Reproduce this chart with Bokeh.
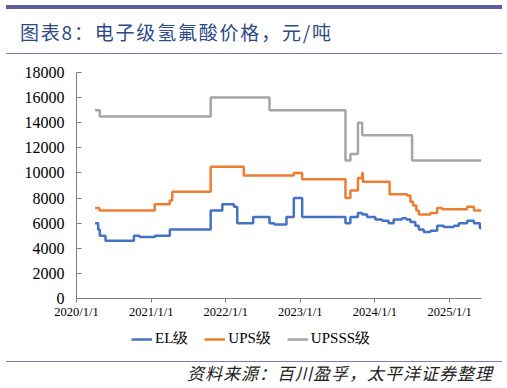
import pandas as pd
from bokeh.plotting import figure
from bokeh.layouts import column
from bokeh.models import Range1d, FixedTicker, Legend, LegendItem, Div
from bokeh.embed import file_html
from bokeh.resources import INLINE

# ---------------- data ----------------
el_dates = ["2020-04-01", "2020-04-16", "2020-04-24", "2020-05-22", "2020-10-08",
            "2020-11-05", "2021-01-19", "2021-04-02", "2021-10-19", "2021-12-15",
            "2022-02-10", "2022-02-26", "2022-05-15", "2022-08-03", "2022-08-27",
            "2022-10-25", "2022-11-30", "2023-01-10", "2023-08-10", "2023-09-03",
            "2023-10-10", "2023-10-31", "2023-11-24", "2024-01-03", "2024-02-05",
            "2024-03-08", "2024-04-02", "2024-05-13", "2024-06-03", "2024-06-23",
            "2024-07-17", "2024-08-03", "2024-08-27", "2024-09-29", "2024-11-01",
            "2024-12-03", "2025-01-22", "2025-02-15", "2025-03-28", "2025-04-30",
            "2025-05-29"]
el_values = [6000, 5500, 5000, 4600, 5000,
             4900, 5000, 5500, 7000, 7500,
             7300, 6000, 6500, 6000, 5900,
             6500, 8000, 6500, 6000, 6500,
             6800, 6700, 6500, 6300, 6200,
             6000, 6300, 6400, 6300, 6100,
             5800, 5500, 5300, 5400, 5800,
             5700, 5800, 6000, 6200, 6000,
             5600]

ups_dates = ["2020-04-01", "2020-04-22", "2021-01-18", "2021-04-01", "2021-04-14",
             "2021-10-19", "2022-03-30", "2022-11-30", "2023-01-10", "2023-08-10",
             "2023-09-03", "2023-10-10", "2023-10-31", "2023-11-03", "2024-03-13",
             "2024-06-07", "2024-06-23", "2024-07-06", "2024-07-22", "2024-08-03",
             "2024-09-29", "2024-11-01", "2024-11-25", "2025-03-28", "2025-04-30"]
ups_values = [7200, 7000, 7500, 7800, 8500,
              10500, 9800, 10000, 9500, 8000,
              8600, 9600, 10000, 9300, 8300,
              8200, 7700, 7400, 7000, 6700,
              6800, 7200, 7100, 7300, 7000]

upsss_dates = ["2020-04-01", "2020-04-24", "2021-10-19", "2022-08-03", "2023-08-10",
               "2023-09-03", "2023-10-10", "2023-10-31", "2024-07-01"]
upsss_values = [15000, 14500, 16000, 15000, 11000,
                11500, 14000, 13000, 11000]

last_date = "2025-06-06"

series_names = ["EL级", "UPS级", "UPSSS级"]
series_colors = ["#4472C4", "#ED7D31", "#A5A5A5"]

year_ticks = ["2020-01-01", "2021-01-01", "2022-01-01", "2023-01-01",
              "2024-01-01", "2025-01-01"]
year_labels = ["2020/1/1", "2021/1/1", "2022/1/1", "2023/1/1", "2024/1/1", "2025/1/1"]
y_ticks = [0, 2000, 4000, 6000, 8000, 10000, 12000, 14000, 16000, 18000]

title_text = "图表8：电子级氢氟酸价格，元/吨"
source_text = "资料来源：百川盈孚，太平洋证券整理"

W = 507
RULE_COLOR = "#5B5EA0"
THIN_RULE_COLOR = "#7B7EB6"
LINE_W = 2.5


def ms(d):
    return pd.Timestamp(d).value // 10**6


def clean(f):
    f.outline_line_color = None
    f.xgrid.grid_line_color = None
    f.ygrid.grid_line_color = None
    f.background_fill_color = "white"
    f.border_fill_color = "white"
    return f


# ---------------- header ----------------
head_html = (
    '<div style="position:relative;width:507px;height:60px;margin:0;padding:0;">'
    f'<div style="position:absolute;left:6px;top:5px;width:496px;height:3.5px;background:{RULE_COLOR};"></div>'
    '<div style="position:absolute;left:20px;top:20px;height:24px;line-height:24px;white-space:nowrap;'
    "letter-spacing:1.8px;font-family:'Noto Sans CJK SC';font-size:19px;color:#2E4A86;\">"
    f'{title_text}</div>'
    f'<div style="position:absolute;left:6px;top:53px;width:496px;height:1px;background:{THIN_RULE_COLOR};"></div>'
    '</div>'
)
head = Div(text=head_html, width=W, height=60, margin=0)

# ---------------- main chart ----------------
p = clean(figure(width=W, height=262, x_axis_type="datetime",
                 output_backend="svg", toolbar_location=None,
                 x_range=Range1d(ms("2020-01-01"), ms(last_date)),
                 y_range=Range1d(0, 18000),
                 min_border_left=76, min_border_right=26,
                 min_border_top=12, min_border_bottom=24))

for dates, vals, color in [(el_dates, el_values, series_colors[0]),
                           (ups_dates, ups_values, series_colors[1]),
                           (upsss_dates, upsss_values, series_colors[2])]:
    xs = [ms(d) for d in dates] + [ms(last_date)]
    ys = list(vals) + [vals[-1]]
    p.step(xs, ys, mode="after", line_color=color, line_width=LINE_W)

xa = p.xaxis[0]
xa.ticker = FixedTicker(ticks=[ms(d) for d in year_ticks], minor_ticks=[])
xa.major_label_overrides = {ms(d): lab for d, lab in zip(year_ticks, year_labels)}
xa.axis_line_color = "#7f7f7f"
xa.major_tick_line_color = "#7f7f7f"
xa.major_tick_in = 0
xa.major_tick_out = 4
xa.minor_tick_line_color = None
xa.major_label_standoff = 2
xa.major_label_text_font = "Liberation Serif"
xa.major_label_text_font_size = "12.5px"
xa.major_label_text_color = "#000000"

ya = p.yaxis[0]
ya.ticker = FixedTicker(ticks=y_ticks, minor_ticks=[])
ya.axis_line_color = "#7f7f7f"
ya.major_tick_line_color = "#7f7f7f"
ya.major_tick_in = 5
ya.major_tick_out = 0
ya.minor_tick_line_color = None
ya.major_label_standoff = 12
ya.major_label_text_font = "Liberation Serif"
ya.major_label_text_font_size = "16px"
ya.major_label_text_color = "#000000"
ya.formatter.use_scientific = False

# ---------------- legend strip ----------------
leg = clean(figure(width=W, height=30, output_backend="svg", toolbar_location=None,
                   x_range=Range1d(0, 1), y_range=Range1d(0, 1),
                   x_axis_location=None, y_axis_location=None,
                   min_border_left=76, min_border_right=26,
                   min_border_top=0, min_border_bottom=0))
# legend sample renderers: placed outside the visible range so only the legend shows them
samples = [leg.line(x=[5, 6], y=[5, 6], line_color=c, line_width=LINE_W) for c in series_colors]
legend = Legend(items=[LegendItem(label=n, renderers=[r]) for n, r in zip(series_names, samples)],
                location=(55, 4), orientation="horizontal",
                background_fill_alpha=0, border_line_alpha=0,
                padding=0, margin=0, spacing=16, label_standoff=3,
                glyph_width=21, glyph_height=14,
                label_text_font="Liberation Serif", label_text_font_size="15px",
                label_text_color="#000000")
leg.add_layout(legend, "center")

# ---------------- footer ----------------
foot_html = (
    '<div style="position:relative;width:507px;height:36px;margin:0;padding:0;">'
    f'<div style="position:absolute;left:6px;top:8.5px;width:496px;height:1px;background:{THIN_RULE_COLOR};"></div>'
    '<div style="position:absolute;right:14px;top:9px;height:24px;line-height:24px;white-space:nowrap;'
    "letter-spacing:1px;font-family:'Noto Sans CJK SC';font-size:17px;font-style:italic;color:#222222;\">"
    f'{source_text}</div>'
    '</div>'
)
foot = Div(text=foot_html, width=W, height=36, margin=0)

layout = column(head, p, leg, foot, spacing=0)
open("out.html", "w").write(file_html(layout, INLINE))
